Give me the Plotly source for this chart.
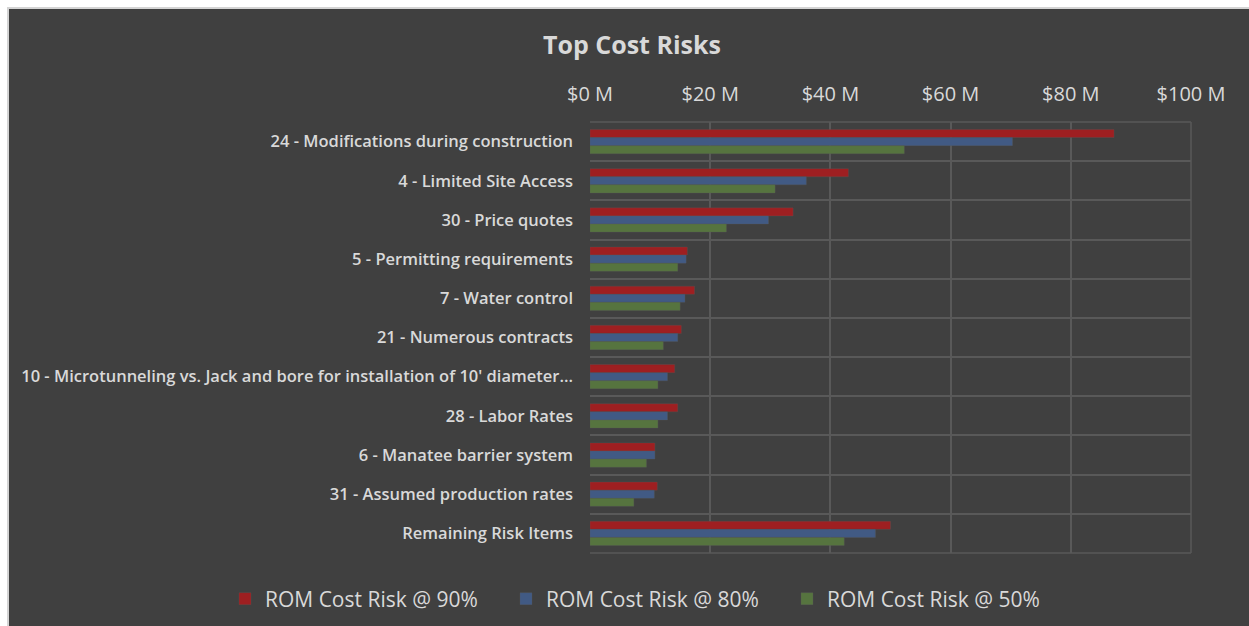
import plotly.graph_objects as go

categories = [
    "24 - Modifications during construction",
    "4 - Limited Site Access",
    "30 - Price quotes",
    "5 - Permitting requirements",
    "7 - Water control",
    "21 - Numerous contracts",
    "10 - Microtunneling vs. Jack and bore for installation of 10' diameter...",
    "28 - Labor Rates",
    "6 - Manatee barrier system",
    "31 - Assumed production rates",
    "Remaining Risk Items",
]
risk_90 = [87.2, 43.0, 33.8, 16.2, 17.4, 15.2, 14.1, 14.6, 10.8, 11.2, 50.0]
risk_80 = [70.3, 36.0, 29.7, 16.0, 15.8, 14.6, 12.9, 12.9, 10.8, 10.7, 47.5]
risk_50 = [52.3, 30.8, 22.7, 14.6, 15.0, 12.2, 11.3, 11.3, 9.4, 7.3, 42.3]
series_names = ["ROM Cost Risk @ 90%", "ROM Cost Risk @ 80%", "ROM Cost Risk @ 50%"]
x_ticks = [0, 20, 40, 60, 80, 100]

BG = "#404040"
TXT = "#d9d9d9"
GRID = "#595959"
FONT = "Open Sans"
colors = ["#9e1f21", "#415a84", "#56743f"]

fig = go.Figure()
for name, vals, col in zip(series_names, [risk_90, risk_80, risk_50], colors):
    fig.add_trace(go.Bar(
        y=categories, x=vals, name=name, orientation="h",
        marker=dict(color=col, line=dict(color="rgba(90,90,90,0.6)", width=0.5)),
    ))

W, H = 1249, 626
L, R, T, B = 590, 58, 122, 73
pw, ph = W - L - R, H - T - B

def px_x(p):
    return (p - L) / pw

def px_y(p):
    return (H - B - p) / ph

frame = [
    dict(type="line", xref="paper", yref="paper", layer="below",
         x0=0, x1=1, y0=1, y1=1, line=dict(color=GRID, width=1.5)),
    dict(type="line", xref="paper", yref="paper", layer="below",
         x0=0, x1=1, y0=0, y1=0, line=dict(color=GRID, width=1.5)),
    dict(type="line", xref="paper", yref="paper", layer="below",
         x0=1, x1=1, y0=0, y1=1, line=dict(color=GRID, width=1.5)),
]
border = [
    dict(type="rect", xref="paper", yref="paper", layer="above",
         x0=px_x(-20), x1=px_x(9), y0=px_y(700), y1=px_y(-20),
         fillcolor="#d4d4d4", line=dict(width=0)),
    dict(type="rect", xref="paper", yref="paper", layer="above",
         x0=px_x(-20), x1=px_x(1300), y0=px_y(9), y1=px_y(-20),
         fillcolor="#d4d4d4", line=dict(width=0)),
    dict(type="rect", xref="paper", yref="paper", layer="above",
         x0=px_x(-20), x1=px_x(7), y0=px_y(700), y1=px_y(-20),
         fillcolor="#ffffff", line=dict(width=0)),
    dict(type="rect", xref="paper", yref="paper", layer="above",
         x0=px_x(-20), x1=px_x(1300), y0=px_y(7), y1=px_y(-20),
         fillcolor="#ffffff", line=dict(width=0)),
]

fig.update_layout(
    width=W, height=H,
    margin=dict(l=L, r=R, t=T, b=B, autoexpand=False),
    paper_bgcolor=BG, plot_bgcolor=BG,
    barmode="group", bargap=0.38, bargroupgap=0,
    font=dict(family=FONT, color=TXT),
    title=dict(text="<b>Top Cost Risks</b>", x=0.506, xanchor="center",
               y=1 - 45 / H, yanchor="middle", yref="container",
               font=dict(size=25, color=TXT, family=FONT)),
    xaxis=dict(side="top", range=[0, 100], tickvals=x_ticks,
               ticktext=[f"${v} M" for v in x_ticks],
               showgrid=True, gridcolor=GRID, gridwidth=1.5,
               zeroline=False, showline=False,
               ticks="", ticklabelstandoff=16,
               tickfont=dict(size=20, color=TXT, family=FONT, weight=500), fixedrange=True),
    yaxis=dict(autorange="reversed", type="category",
               showgrid=True, gridcolor=GRID, gridwidth=1.5, tickson="boundaries",
               showline=False, zeroline=False,
               ticks="", ticklabelstandoff=16,
               tickfont=dict(size=16.5, color=TXT, family=FONT, weight=600)),
    legend=dict(orientation="h", xref="paper", yref="paper",
                x=px_x(225), xanchor="left", y=px_y(599), yanchor="middle",
                font=dict(size=21, color=TXT, family=FONT),
                bgcolor="rgba(0,0,0,0)", itemwidth=30, traceorder="normal",
                entrywidth=236, entrywidthmode="pixels"),
    showlegend=True,
    shapes=frame + border,
)

fig.write_html("out.html")
